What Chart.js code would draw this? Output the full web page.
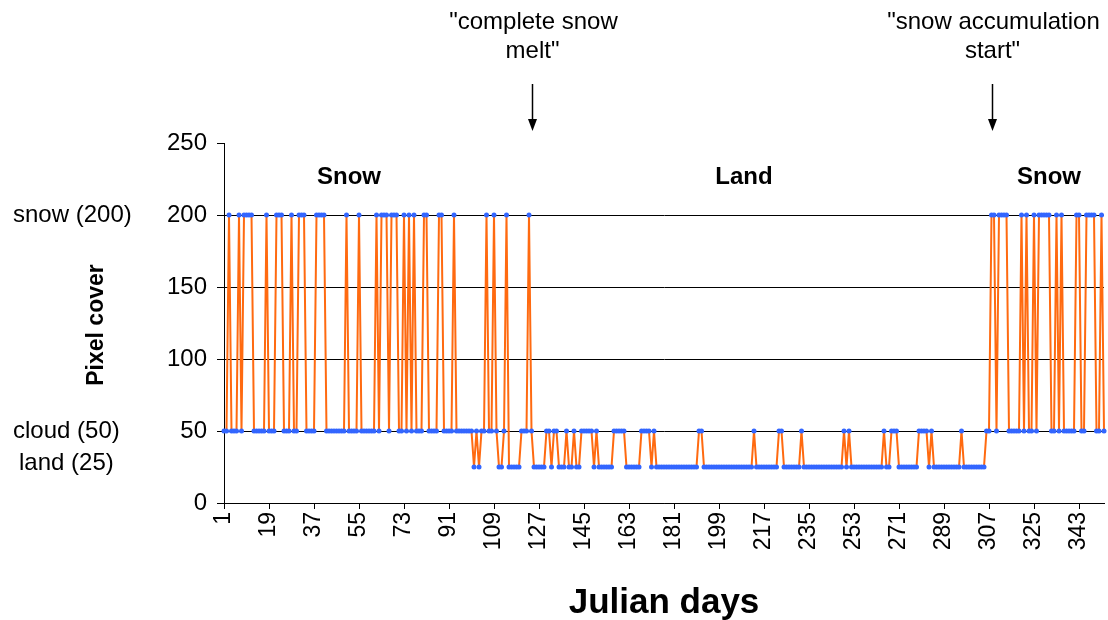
<!DOCTYPE html>
<html>
<head>
<meta charset="utf-8">
<script src="https://cdn.jsdelivr.net/npm/chart.js@4.4.0/dist/chart.umd.min.js"></script>
<style>
  html, body { margin: 0; padding: 0; background: #fff; }
  #wrap { width: 1108px; height: 620px; }
</style>
</head>
<body>
<div id="wrap"><canvas id="myChart" width="1108" height="620"></canvas></div>
<script>
// daily pixel class: 200 = snow, 50 = cloud, 25 = land
var pixelCover = [
    50, 50, 200, 50, 50, 50, 200, 50, 200, 200,
    200, 200, 50, 50, 50, 50, 50, 200, 50, 50,
    50, 200, 200, 200, 50, 50, 50, 200, 50, 50,
    200, 200, 200, 50, 50, 50, 50, 200, 200, 200,
    200, 50, 50, 50, 50, 50, 50, 50, 50, 200,
    50, 50, 50, 50, 200, 50, 50, 50, 50, 50,
    50, 200, 50, 200, 200, 200, 50, 200, 200, 200,
    50, 50, 200, 50, 200, 50, 200, 50, 50, 50,
    200, 200, 50, 50, 50, 50, 200, 200, 50, 50,
    50, 50, 200, 50, 50, 50, 50, 50, 50, 50,
    25, 50, 25, 50, 50, 200, 50, 50, 200, 50,
    25, 25, 50, 200, 25, 25, 25, 25, 25, 50,
    50, 50, 200, 50, 25, 25, 25, 25, 25, 50,
    50, 25, 50, 50, 25, 25, 25, 50, 25, 25,
    50, 25, 25, 50, 50, 50, 50, 50, 25, 50,
    25, 25, 25, 25, 25, 25, 50, 50, 50, 50,
    50, 25, 25, 25, 25, 25, 25, 50, 50, 50,
    50, 25, 50, 25, 25, 25, 25, 25, 25, 25,
    25, 25, 25, 25, 25, 25, 25, 25, 25, 25,
    50, 50, 25, 25, 25, 25, 25, 25, 25, 25,
    25, 25, 25, 25, 25, 25, 25, 25, 25, 25,
    25, 25, 50, 25, 25, 25, 25, 25, 25, 25,
    25, 25, 50, 50, 25, 25, 25, 25, 25, 25,
    25, 50, 25, 25, 25, 25, 25, 25, 25, 25,
    25, 25, 25, 25, 25, 25, 25, 25, 50, 25,
    50, 25, 25, 25, 25, 25, 25, 25, 25, 25,
    25, 25, 25, 25, 50, 25, 25, 50, 50, 50,
    25, 25, 25, 25, 25, 25, 25, 25, 50, 50,
    50, 50, 25, 50, 25, 25, 25, 25, 25, 25,
    25, 25, 25, 25, 25, 50, 25, 25, 25, 25,
    25, 25, 25, 25, 25, 50, 50, 200, 200, 50,
    200, 200, 200, 200, 50, 50, 50, 50, 50, 200,
    50, 200, 50, 50, 200, 50, 200, 200, 200, 200,
    200, 50, 50, 200, 50, 200, 50, 50, 50, 50,
    50, 200, 200, 50, 50, 200, 200, 200, 200, 50,
    50, 200, 50
];

var days = [];
for (var d = 1; d <= pixelCover.length; d++) days.push(String(d));

var dayStep = 18;
var classNames = ['snow (200)', 'cloud (50)', 'land (25)'];
var classValues = [200, 50, 25];
var periodNames = ['Snow', 'Land', 'Snow'];
var periodDays = [51, 209, 331];
var eventNames = [['"complete snow', 'melt"'], ['"snow accumulation', 'start"']];
var eventDays = [124, 308];

var FONT = '"Liberation Sans", Arial, sans-serif';

var extraText = {
    id: 'extraText',
    afterDraw: function(chart) {
        var ctx = chart.ctx;
        var xs = chart.scales.x, ys = chart.scales.y;
        ctx.save();
        ctx.fillStyle = '#000';
        ctx.textBaseline = 'middle';

        // class names left of the value ticks
        ctx.font = '24px ' + FONT;
        ctx.textAlign = 'left';
        var classLeft = [13, 13, 19];
        var classShift = [0, 0, -4];
        for (var i = 0; i < classNames.length; i++) {
            ctx.fillText(classNames[i], classLeft[i], ys.getPixelForValue(classValues[i]) + classShift[i]);
        }

        // period names inside the plot
        ctx.textAlign = 'center';
        ctx.font = 'bold 24px ' + FONT;
        for (var j = 0; j < periodNames.length; j++) {
            ctx.fillText(periodNames[j], xs.getPixelForValue(periodDays[j] - 1), ys.getPixelForValue(226));
        }

        // event notes with arrows
        ctx.font = '24px ' + FONT;
        ctx.strokeStyle = '#000';
        ctx.lineWidth = 1.5;
        for (var k = 0; k < eventNames.length; k++) {
            var ex = Math.round(xs.getPixelForValue(eventDays[k] - 1)) + 0.5;
            ctx.fillText(eventNames[k][0], ex + 1, 22);
            ctx.fillText(eventNames[k][1], ex, 51);
            ctx.beginPath();
            ctx.moveTo(ex, 84);
            ctx.lineTo(ex, 124);
            ctx.stroke();
            ctx.beginPath();
            ctx.moveTo(ex - 4.5, 119);
            ctx.lineTo(ex, 131);
            ctx.lineTo(ex + 4.5, 119);
            ctx.closePath();
            ctx.fill();
        }

        // axis titles
        ctx.font = 'bold 23px ' + FONT;
        ctx.save();
        ctx.translate(97, (chart.chartArea.top + chart.chartArea.bottom) / 2 + 2);
        ctx.rotate(-Math.PI / 2);
        ctx.fillText('Pixel cover', 0, 0);
        ctx.restore();

        ctx.font = 'bold 35px ' + FONT;
        ctx.fillText('Julian days', (chart.chartArea.left + chart.chartArea.right) / 2, 603);
        ctx.restore();
    }
};

var config = {
    type: 'line',
    data: {
        labels: days,
        datasets: [{
            data: pixelCover,
            borderColor: '#ff6a10',
            borderWidth: 2,
            pointBackgroundColor: '#3366ff',
            pointBorderColor: '#3366ff',
            pointBorderWidth: 0,
            pointRadius: 2.5,
            pointStyle: 'circle',
            tension: 0
        }]
    },
    options: {
        responsive: false,
        animation: false,
        layout: { padding: { left: 0, right: 2, top: 143, bottom: 0 } },
        plugins: { legend: { display: false }, tooltip: { enabled: false } },
        scales: {
            x: {
                type: 'category',
                offset: false,
                border: { color: '#000', width: 1 },
                grid: {
                    drawOnChartArea: false,
                    tickLength: 6,
                    color: function(c) { return c.index % dayStep === 0 ? '#000' : 'rgba(0,0,0,0)'; }
                },
                ticks: {
                    autoSkip: false,
                    maxRotation: 90,
                    minRotation: 90,
                    padding: 3,
                    color: '#000',
                    font: { family: FONT, size: 23 },
                    callback: function(v, i) { return i % dayStep === 0 ? days[i] : ''; }
                },
                afterFit: function(s) { s.height = 117; s.paddingLeft = 0; s.paddingRight = 0; }
            },
            y: {
                min: 0,
                max: 250,
                border: { color: '#000', width: 1 },
                grid: {
                    tickLength: 7,
                    tickColor: '#000',
                    color: function(c) { return c.tick.value === 250 ? 'rgba(0,0,0,0)' : '#000'; }
                },
                ticks: {
                    stepSize: 50,
                    padding: 10,
                    color: '#000',
                    font: { family: FONT, size: 24 }
                },
                afterFit: function(s) { s.width = 224; s.paddingTop = 0; s.paddingBottom = 0; }
            }
        }
    },
    plugins: [extraText]
};

var ctx = document.getElementById('myChart').getContext('2d');
var pixelChart = new Chart(ctx, config);
</script>
</body>
</html>
